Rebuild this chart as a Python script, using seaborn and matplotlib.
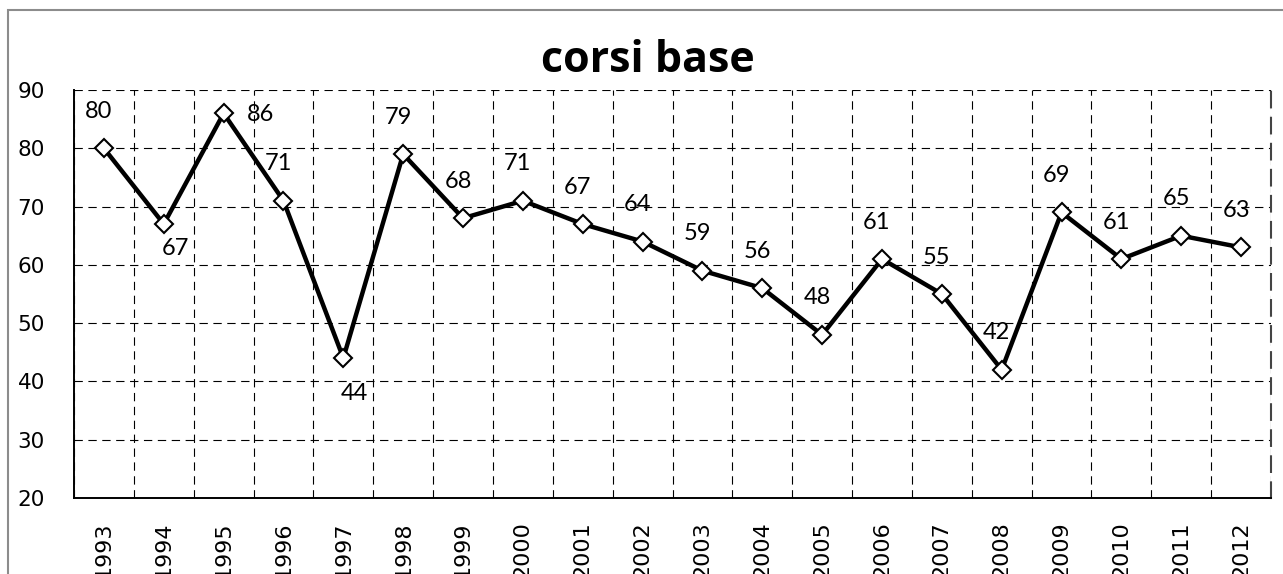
import numpy as np
import pandas as pd
import matplotlib
matplotlib.use("Agg")
import matplotlib.pyplot as plt
import seaborn as sns
from matplotlib.patches import Rectangle

# dati
anni = ["1993", "1994", "1995", "1996", "1997", "1998", "1999", "2000", "2001", "2002",
        "2003", "2004", "2005", "2006", "2007", "2008", "2009", "2010", "2011", "2012"]
corsi = [80, 67, 86, 71, 44, 79, 68, 71, 67, 64, 59, 56, 48, 61, 55, 42, 69, 61, 65, 63]
y_ticks = [20, 30, 40, 50, 60, 70, 80, 90]

# spostamento delle etichette (pixel), default sopra il punto
default_offset = (-5, 37)
special_offsets = {"1994": (12, -24), "1995": (37, -1), "1997": (11, -35)}

sns.set_style("white")
plt.rcParams["font.family"] = ["DejaVu Sans"]
plt.rcParams["text.color"] = "black"
plt.rcParams["xtick.color"] = "black"
plt.rcParams["ytick.color"] = "black"

df = pd.DataFrame({"anno": anni, "corsi": corsi})
df["pos"] = np.arange(len(df))

W, H = 1283, 574
fig = plt.figure(figsize=(W / 100, H / 100), dpi=100)
ax = fig.add_axes([74 / W, 76 / H, 1197 / W, 408 / H])

sns.lineplot(data=df, x="pos", y="corsi", ax=ax, color="black", linewidth=3.2,
             marker="D", markersize=9, markerfacecolor="white",
             markeredgecolor="black", markeredgewidth=1.5, sort=False, zorder=5)

ax.set_xlim(-0.5, len(anni) - 0.5)
ax.set_ylim(y_ticks[0], y_ticks[-1])
ax.set_yticks(y_ticks)
ax.set_xticks(df["pos"], anni, rotation=90)
ax.set_xticks(np.arange(-0.5, len(anni)), minor=True)
ax.set_xlabel("")
ax.set_ylabel("")

dash = (0, (7.5, 5))
ax.grid(False)
ax.grid(which="minor", axis="x", color="black", linewidth=0.8, linestyle=dash)
ax.grid(which="major", axis="y", color="black", linewidth=0.8, linestyle=dash)
ax.set_axisbelow(True)

ax.tick_params(axis="y", length=0, pad=21, labelsize=15.5, labelcolor="black")
ax.tick_params(axis="x", which="both", length=0, pad=17, labelsize=16, labelcolor="black")

for side in ["left", "bottom"]:
    ax.spines[side].set_color("black")
    ax.spines[side].set_linewidth(1.4)
ax.spines["top"].set_visible(False)
ax.spines["right"].set_color("#444444")
ax.spines["right"].set_linewidth(1.5)
ax.spines["right"].set_linestyle(dash)

for _, row in df.iterrows():
    dx, dy = special_offsets.get(row["anno"], default_offset)
    ax.annotate(str(row["corsi"]), (row["pos"], row["corsi"]), xytext=(dx, dy),
                textcoords="offset pixels", ha="center", va="center",
                fontsize=17, family="Lato", color="black", zorder=6)

fig.text(648 / W, 1 - 60 / H, "corsi base", ha="center", va="center",
         fontsize=31, fontweight="bold", family="Open Sans", color="black")

# cornice grigia esterna
fig.add_artist(Rectangle((8 / W, -0.05), 1.1, 1 - 10 / H + 0.05, transform=fig.transFigure,
                         fill=False, edgecolor="#8c8c8c", linewidth=1.5, clip_on=False))

fig.savefig("out.png", dpi=100)
